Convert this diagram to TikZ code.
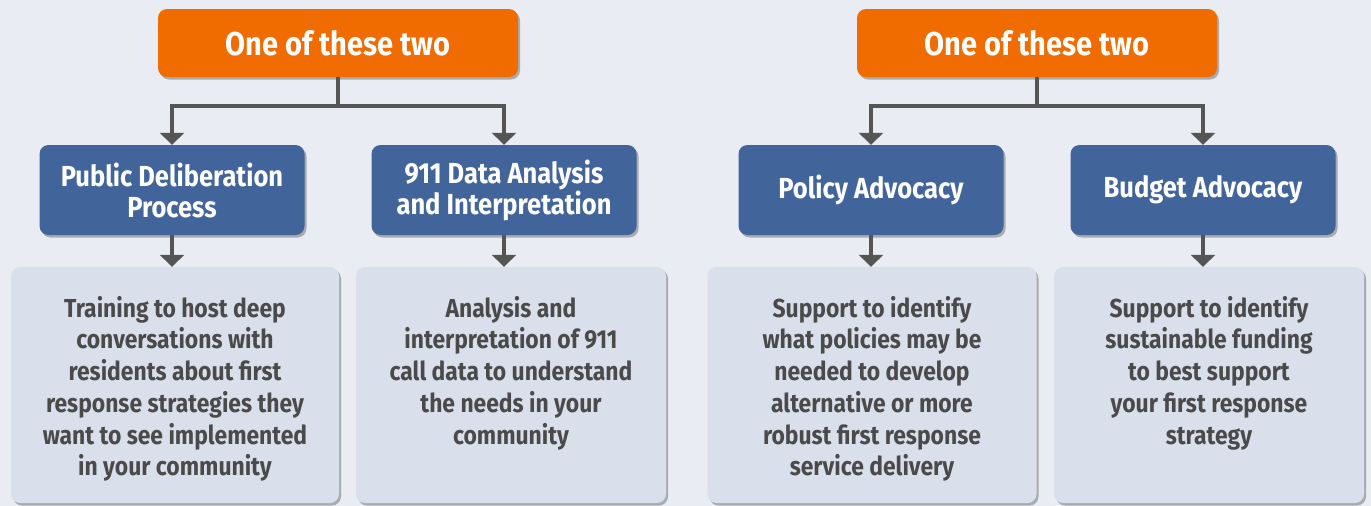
\documentclass[tikz,border=0pt]{standalone}
\usepackage{fontspec}
\setmainfont{Fira Sans}[FakeStretch=0.88]
\usetikzlibrary{arrows.meta,shadows,positioning}

\definecolor{bgcol}{RGB}{233,237,243}
\definecolor{orangebox}{RGB}{240,108,0}
\definecolor{bluebox}{RGB}{65,100,155}
\definecolor{greybox}{RGB}{218,224,235}
\definecolor{greytext}{RGB}{74,74,74}
\definecolor{linkgrey}{RGB}{85,85,85}

\tikzset{
  boxshadow/.style={drop shadow={shadow xshift=2pt,shadow yshift=-2.5pt,fill=black,opacity=0.28}},
  choicebox/.style={fill=orangebox, rounded corners=9pt, boxshadow, minimum width=360pt,
    minimum height=68pt, text=white, font=\bfseries\fontsize{33}{38}\selectfont},
  servicebox/.style={fill=bluebox, rounded corners=9pt, boxshadow, minimum width=265pt,
    minimum height=90pt, text=white, align=center, font=\bfseries\fontsize{29}{31}\selectfont},
  detailbox/.style={fill=greybox, rounded corners=9pt, boxshadow, minimum height=236pt},
  detailtext/.style={text=greytext, align=center, inner sep=0pt, anchor=north,
    font=\bfseries\fontsize{26}{31.7}\selectfont},
  link/.style={draw=linkgrey, line width=4pt, -{Triangle[width=24pt,length=12pt]}},
}

\begin{document}
\begin{tikzpicture}[x=1pt, y=-1pt]
\fill[bgcol] (0,0) rectangle (1371,506);
\useasboundingbox (0,0) rectangle (1371,506);

% left group
\node[choicebox] (choiceL) at (338,43) {One of these two};
\node[servicebox] (deliberation) at (172,190) {Public Deliberation\\Process};
\node[servicebox] (data) at (504,190) {911 Data Analysis\\and Interpretation};
\node[detailbox, minimum width=328pt] (trainingbox) at (175,385) {};
\node[detailbox, minimum width=310pt] (analysisbox) at (511,385) {};
\node[detailtext] (training) at (175,296) {Training to host deep\\conversations with\\residents about first\\response strategies they\\want to see implemented\\in your community};
\node[detailtext] (analysis) at (511,296) {Analysis and\\interpretation of 911\\call data to understand\\the needs in your\\community};

% right group
\node[choicebox] (choiceR) at (1037,43) {One of these two};
\node[servicebox] (policy) at (871,190) {Policy Advocacy};
\node[servicebox] (budget) at (1203,190) {Budget Advocacy};
\node[detailbox, minimum width=329pt] (policybox) at (872,385) {};
\node[detailbox, minimum width=310pt] (budgetbox) at (1209,385) {};
\node[detailtext] (policytext) at (872,296) {Support to identify\\what policies may be\\needed to develop\\alternative or more\\robust first response\\service delivery};
\node[detailtext] (budgettext) at (1209,296) {Support to identify\\sustainable funding\\to best support\\your first response\\strategy};

% connectors
\draw[link] (choiceL.south) -- ++(0,29) -| (deliberation.north);
\draw[link] (choiceL.south) -- ++(0,29) -| (data.north);
\draw[link] (choiceR.south) -- ++(0,29) -| (policy.north);
\draw[link] (choiceR.south) -- ++(0,29) -| (budget.north);
\draw[link] (deliberation.south) -- (deliberation.south |- trainingbox.north);
\draw[link] (data.south) -- (data.south |- analysisbox.north);
\draw[link] (policy.south) -- (policy.south |- policybox.north);
\draw[link] (budget.south) -- (budget.south |- budgetbox.north);
\end{tikzpicture}
\end{document}
